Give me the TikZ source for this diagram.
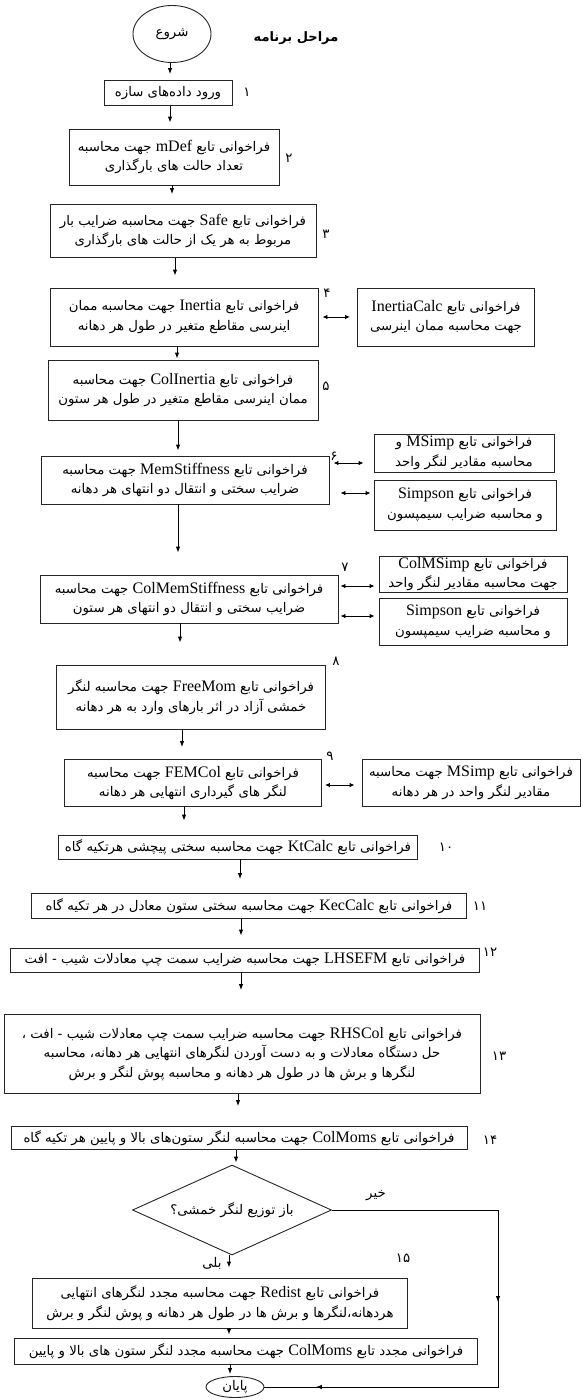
\documentclass[tikz,border=0pt]{standalone}
\usepackage{fontspec}
\setmainfont{Liberation Serif}
\newfontfamily\fa[Script=Arabic]{DejaVu Sans}
\TeXXeTstate=1
\usetikzlibrary{arrows.meta,shapes.geometric,calc}
\newcommand\faline[1]{\beginR #1\endR}
\newcommand\enw[1]{\beginL{\rmfamily\fontsize{16}{19}\selectfont #1}\endL}
\newcommand\fs{\fontsize{13.3}{19.5}\selectfont}
\newcommand\vconn[4][8pt]{%
  \path ([xshift=#4]#2.south) coordinate (vtmp);
  \draw[arr, shorten >=#1] (vtmp) -- (vtmp |- #3.north);}
\begin{document}
\begin{tikzpicture}[x=1pt,y=-1pt,
  box/.style={draw=black!85, line width=0.9pt, inner sep=0pt, align=center, font=\fa\fs},
  ell/.style={ellipse, draw=black!85, line width=0.9pt, inner sep=0pt, font=\fa\fs},
  dia/.style={diamond, aspect=2.3, draw=black!85, line width=0.9pt, inner sep=0pt, font=\fa\fs},
  num/.style={font=\fa\fs, inner sep=0pt},
  lbl/.style={font=\fa\fs, inner sep=0pt},
  arr/.style={-{Latex[length=6pt,width=4.5pt]}, line width=0.9pt},
  dbl/.style={{Latex[length=5pt,width=4.5pt]}-{Latex[length=5pt,width=4.5pt]}, line width=0.9pt}]
\useasboundingbox (0,0) rectangle (583,1400);
\fill[white] (0,0) rectangle (583,1400);

% title and start
\node[ell, minimum width=78pt, minimum height=57pt] (start) at (172,34) {\faline{شروع}};
\node[font=\fa\bfseries\fontsize{13}{16}\selectfont] (title) at (296,38) {\faline{مراحل برنامه}};

% main column
\node[box, minimum width=128pt, minimum height=25pt] (b1) at (168,93) {\faline{ورود داده‌های سازه}};
\node[box, minimum width=210pt, minimum height=56pt] (b2) at (174,157) {\faline{فراخوانی تابع \enw{mDef} جهت محاسبه}\\\faline{تعداد  حالت های بارگذاری}};
\node[box, minimum width=266pt, minimum height=53pt] (b3) at (183,231) {\faline{فراخوانی تابع \enw{Safe} جهت محاسبه ضرایب بار}\\\faline{مربوط به هر یک از حالت های بارگذاری}};
\node[box, minimum width=268pt, minimum height=58pt] (b4) at (184,317) {\faline{فراخوانی تابع \enw{Inertia} جهت محاسبه ممان}\\\faline{اینرسی مقاطع متغیر در طول هر دهانه}};
\node[box, minimum width=177pt, minimum height=58pt] (ic) at (446,317) {\faline{فراخوانی تابع \enw{InertiaCalc}}\\\faline{جهت محاسبه ممان اینرسی}};
\node[box, minimum width=270pt, minimum height=60pt] (b5) at (183,390) {\faline{فراخوانی تابع \enw{ColInertia} جهت محاسبه}\\\faline{ممان اینرسی مقاطع متغیر در طول هر ستون}};
\node[box, minimum width=288pt, minimum height=48pt] (b6) at (185,480) {\faline{فراخوانی تابع \enw{MemStiffness} جهت محاسبه}\\\faline{ضرایب سختی و انتقال دو انتهای هر دهانه}};
\node[box, minimum width=180pt, minimum height=38pt] (ms) at (464,453) {\faline{فراخوانی تابع \enw{MSimp} و}\\\faline{محاسبه مقادیر لنگر واحد}};
\node[box, minimum width=182pt, minimum height=50pt] (sp) at (465,505) {\faline{فراخوانی تابع \enw{Simpson}}\\\faline{و محاسبه ضرایب سیمپسون}};
\node[box, minimum width=298pt, minimum height=48pt] (b7) at (189,599) {\faline{فراخوانی تابع \enw{ColMemStiffness} جهت محاسبه}\\\faline{ضرایب سختی و انتقال دو انتهای هر ستون}};
\node[box, minimum width=188pt, minimum height=36pt] (cms) at (473,574) {\faline{فراخوانی تابع \enw{ColMSimp}}\\\faline{جهت محاسبه مقادیر لنگر واحد}};
\node[box, minimum width=188pt, minimum height=47pt] (sp2) at (473,622) {\faline{فراخوانی تابع \enw{Simpson}}\\\faline{و محاسبه ضرایب سیمپسون}};
\node[box, minimum width=269pt, minimum height=64pt] (b8) at (191,697) {\faline{فراخوانی تابع \enw{FreeMom} جهت محاسبه لنگر}\\\faline{خمشی آزاد در اثر بارهای وارد به هر دهانه}};
\node[box, minimum width=257pt, minimum height=47pt] (b9) at (193,783) {\faline{فراخوانی تابع \enw{FEMCol}  جهت محاسبه}\\\faline{لنگر های گیرداری انتهایی هر دهانه}};
\node[box, minimum width=218pt, minimum height=47pt] (ms2) at (471,783) {\faline{فراخوانی تابع \enw{MSimp} جهت محاسبه}\\\faline{مقادیر لنگر واحد در هر دهانه}};
\node[box, minimum width=359pt, minimum height=24pt] (b10) at (238,847) {\faline{فراخوانی تابع \enw{KtCalc} جهت محاسبه سختی پیچشی هرتکیه گاه}};
\node[box, minimum width=435pt, minimum height=25pt] (b11) at (249,906) {\faline{فراخوانی تابع \enw{KecCalc} جهت محاسبه سختی ستون معادل در هر تکیه گاه}};
\node[box, minimum width=469pt, minimum height=24pt] (b12) at (245,960) {\faline{فراخوانی تابع \enw{LHSEFM} جهت محاسبه ضرایب سمت چپ معادلات شیب - افت}};
\node[box, minimum width=476pt, minimum height=79pt] (b13) at (242,1054) {\faline{فراخوانی تابع \enw{RHSCol} جهت محاسبه ضرایب سمت چپ معادلات شیب - افت ،}\\\faline{حل دستگاه معادلات و به دست آوردن لنگرهای انتهایی هر دهانه، محاسبه}\\\faline{لنگرها و برش ها در طول هر دهانه و محاسبه پوش لنگر و برش}};
\node[box, minimum width=456pt, minimum height=23pt] (b14) at (239,1138) {\faline{فراخوانی تابع \enw{ColMoms} جهت محاسبه لنگر ستون‌های بالا و پایین هر تکیه گاه}};
\node[dia, minimum width=199pt, minimum height=90pt] (q) at (232,1210) {\faline{باز توزیع لنگر خمشی؟}};
\node[box, minimum width=375pt, minimum height=50pt] (b15) at (220,1303) {\faline{فراخوانی تابع \enw{Redist} جهت محاسبه مجدد لنگرهای انتهایی}\\\faline{هردهانه،لنگرها و برش ها در طول هر دهانه و پوش لنگر و برش}};
\node[box, minimum width=463pt, minimum height=26pt] (b16) at (246,1351) {\faline{فراخوانی مجدد تابع \enw{ColMoms} جهت محاسبه مجدد لنگر ستون های بالا و پایین}};
\node[ell, minimum width=58pt, minimum height=21pt] (end) at (235,1387) {\faline{پایان}};

% step numbers
\node[num] (n1) at (247,92) {۱};
\node[num] (n2) at (289,158) {۲};
\node[num] (n3) at (326,234) {۳};
\node[num] (n4) at (327,293) {۴};
\node[num] (n5) at (326,386) {۵};
\node[num] (n6) at (334,456) {۶};
\node[num] (n7) at (345,567) {۷};
\node[num] (n8) at (336,661) {۸};
\node[num] (n9) at (330,756) {۹};
\node[num] (n10) at (446,847) {۱۰};
\node[num] (n11) at (480,906) {۱۱};
\node[num] (n12) at (490,952) {۱۲};
\node[num] (n13) at (499,1056) {۱۳};
\node[num] (n14) at (490,1140) {۱۴};
\node[num] (n15) at (403,1258) {۱۵};
\node[lbl] (no) at (376,1196) {\faline{خیر}};
\node[lbl] (yes) at (212,1263) {\faline{بلی}};

% vertical connectors
\vconn[6pt]{start}{b1}{-2pt}
\vconn[6pt]{b1}{b2}{2pt}
\vconn[10pt]{b2}{b3}{-2pt}
\vconn[12pt]{b3}{b4}{-8pt}
\vconn[1pt]{b4}{b5}{-7pt}
\vconn[5pt]{b5}{b6}{-5pt}
\vconn[22pt]{b6}{b7}{-7pt}
\vconn[22pt]{b7}{b8}{-9pt}
\vconn[12pt]{b8}{b9}{-9pt}
\vconn[14pt]{b9}{b10}{-9pt}
\vconn[14pt]{b10}{b11}{2pt}
\vconn[12pt]{b11}{b12}{-8pt}
\vconn[24pt]{b12}{b13}{-4pt}
\vconn[20pt]{b13}{b14}{-4pt}
\vconn[2pt]{b14}{q}{-3pt}
\vconn[10pt]{q}{b15}{-3pt}
\vconn[3pt]{b15}{b16}{9pt}
\vconn[2pt]{b16}{end}{-16pt}

% side connectors
\draw[dbl, shorten <=4pt, shorten >=7pt] (b4.east) -- (b4.east -| ic.west);
\draw[dbl, shorten <=4pt, shorten >=10pt] ([yshift=17pt]b6.east) -- ([yshift=17pt]b6.east -| ms.west);
\draw[dbl, shorten <=11pt, shorten >=3pt] ([yshift=-13pt]b6.east) -- ([yshift=-13pt]b6.east -| sp.west);
\draw[dbl, shorten <=2pt, shorten >=4pt] ([yshift=13pt]b7.east) -- ([yshift=13pt]b7.east -| cms.west);
\draw[dbl, shorten <=2pt, shorten >=4pt] ([yshift=-17pt]b7.east) -- ([yshift=-17pt]b7.east -| sp2.west);
\draw[dbl, shorten <=3pt, shorten >=7pt] ([yshift=-2pt]b9.east) -- ([yshift=-2pt]b9.east -| ms2.west);

% no branch
\coordinate (nr) at (498,1210);
\coordinate (nb) at (498,1387);
\draw[line width=0.9pt] (q.east) -- (nr) -- (nb) -- (end.east);
\draw[arr] (nr) -- ($(nr)!0.52!(nb)$);
\draw[arr] (nb) -- ($(nb)!0.78!(end.east)$);
\end{tikzpicture}
\end{document}
